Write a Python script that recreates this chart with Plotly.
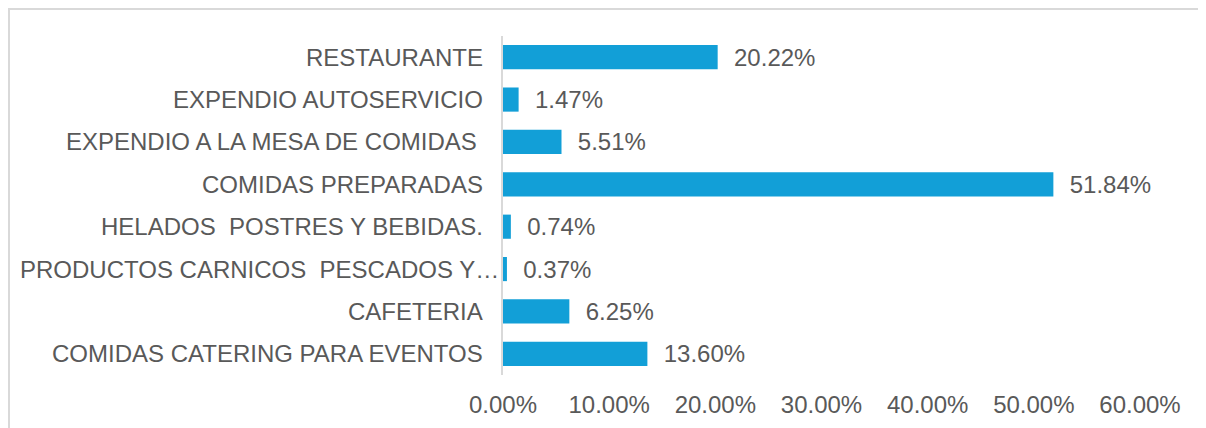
import plotly.graph_objects as go

categories = [
    "RESTAURANTE",
    "EXPENDIO AUTOSERVICIO",
    "EXPENDIO A LA MESA DE COMIDAS\u00a0",
    "COMIDAS PREPARADAS",
    "HELADOS\u00a0 POSTRES Y BEBIDAS.",
    "PRODUCTOS CARNICOS\u00a0 PESCADOS Y…",
    "CAFETERIA",
    "COMIDAS CATERING PARA EVENTOS",
]
values = [20.22, 1.47, 5.51, 51.84, 0.74, 0.37, 6.25, 13.60]
tick_vals = [0, 10, 20, 30, 40, 50, 60]
tick_text = ["0.00%", "10.00%", "20.00%", "30.00%", "40.00%", "50.00%", "60.00%"]

labels = ["\u00a0\u00a0" + f"{v:.2f}%" for v in values]

FONT = "Liberation Sans, Arial, sans-serif"
TXT = "#595959"
FS = 24

fig = go.Figure(
    go.Bar(
        x=values,
        y=categories,
        orientation="h",
        marker=dict(color="#129fd7", line=dict(width=0)),
        text=labels,
        textposition="outside",
        textfont=dict(family=FONT, size=FS, color=TXT),
        constraintext="none",
        cliponaxis=False,
        hoverinfo="skip",
    )
)

# page offset of 8px (body margin) compensated
OFF = 8
L, R = 503 - OFF, 1140 - OFF
T, B = 36 - OFF, 375 - OFF
W, H = 1206, 428


def px(x):
    return (x - L) / (R - L)


def py(y):
    return (B - y) / (B - T)


def rx(x_ref):
    return px(x_ref - OFF)


fig.add_shape(
    type="rect", xref="paper", yref="paper",
    x0=px(1), x1=px(1215), y0=py(436), y1=py(1),
    line=dict(color="#d9d9d9", width=2), fillcolor="rgba(0,0,0,0)", layer="below",
)

# category labels as annotations (truncated label sits closer to the axis, as in the reference)
for c in categories:
    right = 500 if c.endswith("…") else 484
    fig.add_annotation(
        x=rx(right), xref="paper", y=c, yref="y",
        text=c, showarrow=False, xanchor="right", yanchor="middle",
        font=dict(family=FONT, size=FS, color=TXT), borderpad=0,
    )

fig.update_layout(
    width=W, height=H,
    margin=dict(l=L, r=W - R, t=T, b=H - B, autoexpand=False),
    paper_bgcolor="white", plot_bgcolor="white",
    bargap=0.43,
    showlegend=False,
    font=dict(family=FONT, size=FS, color=TXT),
    xaxis=dict(
        range=[0, 60], tickvals=tick_vals, ticktext=tick_text,
        showgrid=False, zeroline=False, showline=False,
        tickfont=dict(family=FONT, size=FS, color=TXT),
        ticks="", ticklabelstandoff=13, fixedrange=True, automargin=False,
    ),
    yaxis=dict(
        autorange="reversed", showgrid=False, zeroline=False,
        showline=True, linecolor="#d9d9d9", linewidth=2,
        showticklabels=False, ticks="", fixedrange=True, automargin=False,
    ),
)

fig.write_html("out.html")
